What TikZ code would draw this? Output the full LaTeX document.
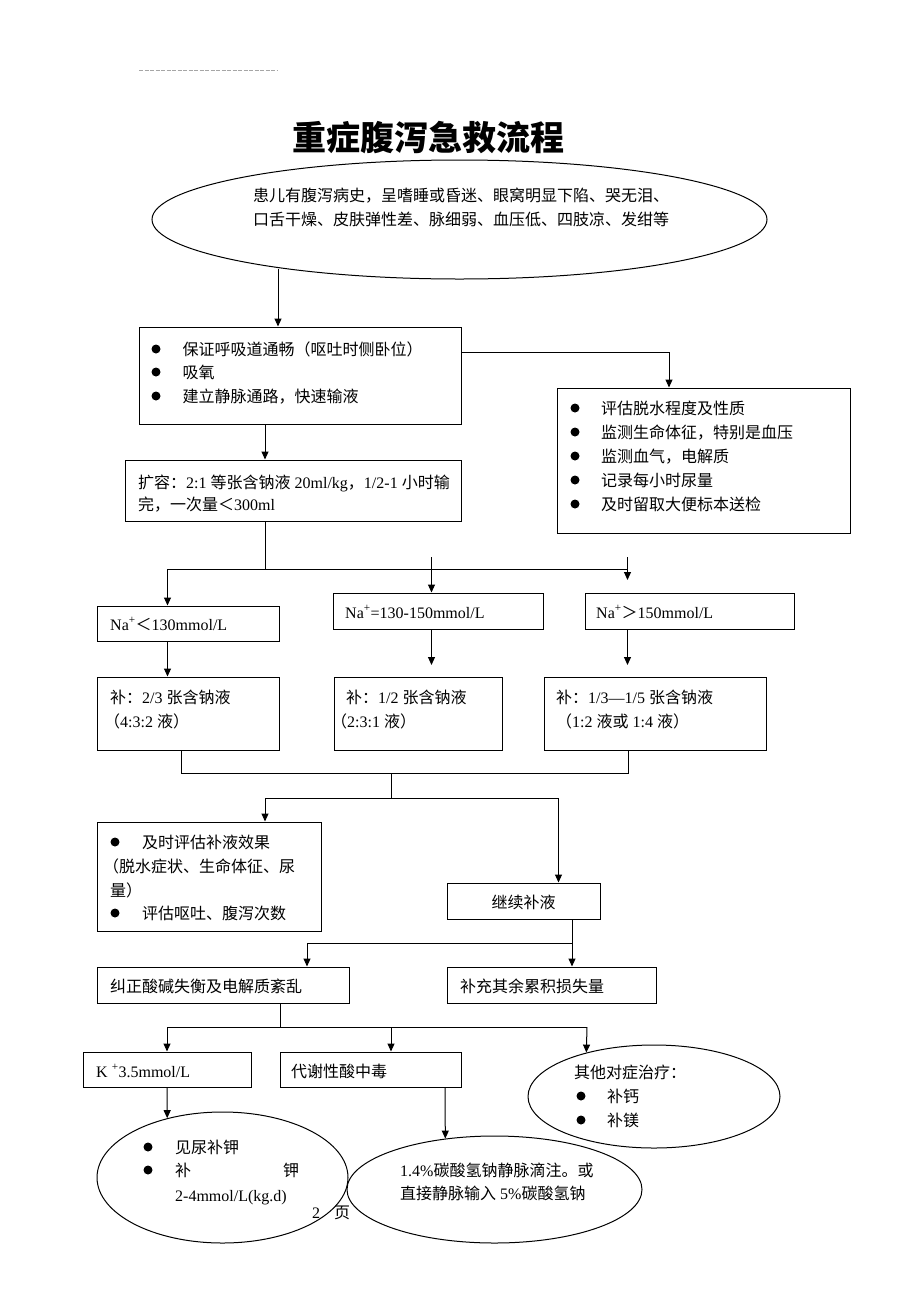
\documentclass[tikz,border=0pt]{standalone}
\usepackage{fontspec}
\setmainfont{Liberation Serif}
\newfontfamily\cjkf{Noto Sans CJK SC}
\newfontfamily\enf{Liberation Serif}
\usetikzlibrary{arrows.meta,shapes.geometric}
\newXeTeXintercharclass\CJKcls
\newcount\cjkcnt
\cjkcnt="4E00
\loop\XeTeXcharclass\cjkcnt=\CJKcls\advance\cjkcnt by 1\ifnum\cjkcnt<"A000\repeat
\cjkcnt="3000
\loop\XeTeXcharclass\cjkcnt=\CJKcls\advance\cjkcnt by 1\ifnum\cjkcnt<"3040\repeat
\cjkcnt="FF00
\loop\XeTeXcharclass\cjkcnt=\CJKcls\advance\cjkcnt by 1\ifnum\cjkcnt<"FFF0\repeat
\XeTeXinterchartoks 0 \CJKcls={\cjkf}
\XeTeXinterchartoks 4095 \CJKcls={\cjkf}
\XeTeXinterchartoks \CJKcls 0={\enf}
\XeTeXinterchartoks \CJKcls 4095={\enf}
\XeTeXinterchartokenstate=1
\begin{document}
\begin{tikzpicture}[x=1pt,y=-1pt,
  box/.style={draw, line width=1pt, inner sep=0pt},
  tx/.style={anchor=west, inner sep=0pt, text height=13.5pt, text depth=1.5pt, font=\fontsize{16}{20}\selectfont},
  bul/.style={circle, fill, inner sep=0pt, minimum size=9pt},
  ln/.style={line width=1pt},
  arr/.style={line width=1pt, -{Triangle[length=8pt,width=7pt]}},
  ell/.style={draw, ellipse, line width=1pt, inner sep=0pt}]
\useasboundingbox (0,0) rectangle (920,1302);
\fill[white] (0,0) rectangle (920,1302);
% header rule
\coordinate (hdA) at (139,70);
\coordinate (hdB) at (278,70);
\draw[gray!70, line width=0.8pt, dash pattern=on 4pt off 1.5pt] (hdA) -- (hdB);
% title
\node[inner sep=0pt, font=\bfseries\fontsize{34}{40}\selectfont] (title) at (428,138) {重症腹泻急救流程};
% shapes
\node[ell, minimum width=615pt, minimum height=119pt] (top) at (459.5,219.5) {};
\node[box, minimum width=322pt, minimum height=97pt] (b1) at (300,375.5) {};
\node[box, minimum width=293pt, minimum height=145pt] (b2) at (703.5,460.5) {};
\node[box, minimum width=336pt, minimum height=61pt] (b3) at (293,490.5) {};
\node[box, minimum width=181.5pt, minimum height=35pt] (n1) at (188.25,623.5) {};
\node[box, minimum width=209.5pt, minimum height=36pt] (n2) at (438.25,611) {};
\node[box, minimum width=209pt, minimum height=36pt] (n3) at (689.5,611) {};
\node[box, minimum width=181.5pt, minimum height=73pt] (s1) at (188.25,713.5) {};
\node[box, minimum width=168.5pt, minimum height=73pt] (s2) at (418.25,713.5) {};
\node[box, minimum width=222.5pt, minimum height=73pt] (s3) at (655.25,713.5) {};
\node[box, minimum width=224pt, minimum height=109pt] (e1) at (209,876.5) {};
\node[box, minimum width=153pt, minimum height=36pt] (c1) at (523.5,901) {};
\node[box, minimum width=252pt, minimum height=36pt] (j1) at (223,985) {};
\node[box, minimum width=209pt, minimum height=36pt] (j2) at (551.5,985) {};
\node[box, minimum width=168pt, minimum height=35pt] (k1) at (167,1069.5) {};
\node[box, minimum width=181pt, minimum height=35pt] (k2) at (370.5,1069.5) {};
\node[ell, minimum width=252pt, minimum height=103pt] (o3) at (654,1096.5) {};
\node[ell, minimum width=251pt, minimum height=131pt] (o4) at (222.5,1177.5) {};
\node[ell, minimum width=295pt, minimum height=107pt] (o5) at (494.5,1189.5) {};
% texts
\node[tx] (t0a) at (253,195) {患儿有腹泻病史，呈嗜睡或昏迷、眼窝明显下陷、哭无泪、};
\node[tx] (t0b) at (253,219) {口舌干燥、皮肤弹性差、脉细弱、血压低、四肢凉、发绀等};
\node[bul] (u1a) at (156,349) {};
\node[bul] (u1b) at (156,372) {};
\node[bul] (u1c) at (156,396) {};
\node[tx] (t1a) at (182.5,349) {保证呼吸道通畅（呕吐时侧卧位）};
\node[tx] (t1b) at (182.5,372) {吸氧};
\node[tx] (t1c) at (182.5,396) {建立静脉通路，快速输液};
\node[bul] (u2a) at (575,408) {};
\node[bul] (u2b) at (575,432) {};
\node[bul] (u2c) at (575,456) {};
\node[bul] (u2d) at (575,480) {};
\node[bul] (u2e) at (575,504) {};
\node[tx] (t2a) at (601,408) {评估脱水程度及性质};
\node[tx] (t2b) at (601,432) {监测生命体征，特别是血压};
\node[tx] (t2c) at (601,456) {监测血气，电解质};
\node[tx] (t2d) at (601,480) {记录每小时尿量};
\node[tx] (t2e) at (601,504) {及时留取大便标本送检};
\node[tx] (t3a) at (138,482) {扩容：2:1 等张含钠液 20ml/kg，1/2-1 小时输};
\node[tx] (t3b) at (138,504) {完，一次量＜300ml};
\node[tx] (tn1) at (110,624) {Na\textsuperscript{+}＜130mmol/L};
\node[tx] (tn2) at (345,612) {Na\textsuperscript{+}=130-150mmol/L};
\node[tx] (tn3) at (596,612) {Na\textsuperscript{+}＞150mmol/L};
\node[tx] (ts1a) at (110,697) {补：2/3 张含钠液};
\node[tx] (ts1b) at (104,721) {（4:3:2 液）};
\node[tx] (ts2a) at (346,697) {补：1/2 张含钠液};
\node[tx] (ts2b) at (331,721) {（2:3:1 液）};
\node[tx] (ts3a) at (556,697) {补：1/3—1/5 张含钠液};
\node[tx] (ts3b) at (556,721) {（1:2 液或 1:4 液）};
\node[bul] (u4a) at (115,842) {};
\node[bul] (u4b) at (115,913) {};
\node[tx] (t4a) at (142,842) {及时评估补液效果};
\node[tx] (t4b) at (103,866) {（脱水症状、生命体征、尿};
\node[tx] (t4c) at (110,890) {量）};
\node[tx] (t4d) at (142,913) {评估呕吐、腹泻次数};
\node[inner sep=0pt, text height=13.5pt, text depth=1.5pt, font=\fontsize{16}{20}\selectfont] (tc1) at (523.5,902) {继续补液};
\node[tx] (tj1) at (110,986) {纠正酸碱失衡及电解质紊乱};
\node[tx] (tj2) at (460,986) {补充其余累积损失量};
\node[tx] (tk1) at (96,1071) {K \textsuperscript{+}3.5mmol/L};
\node[tx] (tk2) at (291,1071) {代谢性酸中毒};
\node[tx] (to3a) at (574,1072) {其他对症治疗：};
\node[bul] (u3a) at (581,1096) {};
\node[bul] (u3b) at (581,1120) {};
\node[tx] (to3b) at (607,1096) {补钙};
\node[tx] (to3c) at (607,1120) {补镁};
\node[bul] (u5a) at (148,1147) {};
\node[bul] (u5b) at (148,1170) {};
\node[tx] (to4a) at (175,1147) {见尿补钾};
\node[tx] (to4b) at (175,1170) {补};
\node[tx] (to4c) at (283,1170) {钾};
\node[tx] (to4d) at (175,1195) {2-4mmol/L(kg.d)};
\node[tx] (to5a) at (400,1170) {1.4\%碳酸氢钠静脉滴注。或};
\node[tx] (to5b) at (400,1193) {直接静脉输入 5\%碳酸氢钠};
\node[tx] (pg2) at (312,1212) {2};
\node[tx] (pg) at (334,1212) {页};
% connectors
\coordinate (tA) at (278,268.5);
\draw[arr] (tA) -- (tA |- b1.north);
\draw[arr] (b1.east |- 0,352) -| (669,0 |- b2.north);
\draw[arr] (265,0 |- b1.south) -- (265,0 |- b3.north);
\coordinate (jA) at (265,569);
\coordinate (jL) at (167.5,569);
\coordinate (jR) at (627.5,569);
\draw[ln] (265,0 |- b3.south) -- (jA);
\draw[ln] (jL) -- (jR);
\draw[arr] (jL) -- (jL |- n1.north);
\coordinate (m1) at (431.5,557);
\draw[arr] (m1) -- (m1 |- n2.north);
\coordinate (r1) at (627.5,557);
\coordinate (r2) at (627.5,580);
\draw[arr] (r1) -- (r2);
\draw[arr] (jL |- n1.south) -- (jL |- s1.north);
\coordinate (a2) at (431.5,665);
\draw[arr] (a2 |- n2.south) -- (a2);
\coordinate (a3) at (627.5,665);
\draw[arr] (a3 |- n3.south) -- (a3);
\coordinate (mL) at (181.5,773);
\coordinate (mR) at (628.5,773);
\draw[ln] (mL |- s1.south) -- (mL) -- (mR) -- (mR |- s3.south);
\coordinate (mC) at (391,773);
\coordinate (mD) at (391,798);
\draw[ln] (mC) -- (mD);
\coordinate (dL) at (265,798);
\coordinate (dR) at (558.5,798);
\draw[ln] (dL) -- (dR);
\draw[arr] (dL) -- (dL |- e1.north);
\draw[arr] (dR) -- (dR |- c1.north);
\coordinate (g) at (572,943);
\coordinate (gL) at (307,943);
\draw[arr] (g |- c1.south) -- (g |- j2.north);
\draw[ln] (g) -- (gL);
\draw[arr] (gL) -- (gL |- j1.north);
\coordinate (pT) at (280,1027);
\coordinate (pL) at (167,1027);
\coordinate (pR) at (587,1027);
\coordinate (pM) at (391,1027);
\draw[ln] (pT |- j1.south) -- (pT);
\draw[ln] (pL) -- (pR);
\draw[arr] (pL) -- (pL |- k1.north);
\draw[arr] (pM) -- (pM |- k2.north);
\draw[arr] (pR) -- (o3.147);
\draw[arr] (k1.south) -- (o4.133.4);
\draw[arr] (445,0 |- k2.south) -- (o5.134.5);
\end{tikzpicture}
\end{document}
